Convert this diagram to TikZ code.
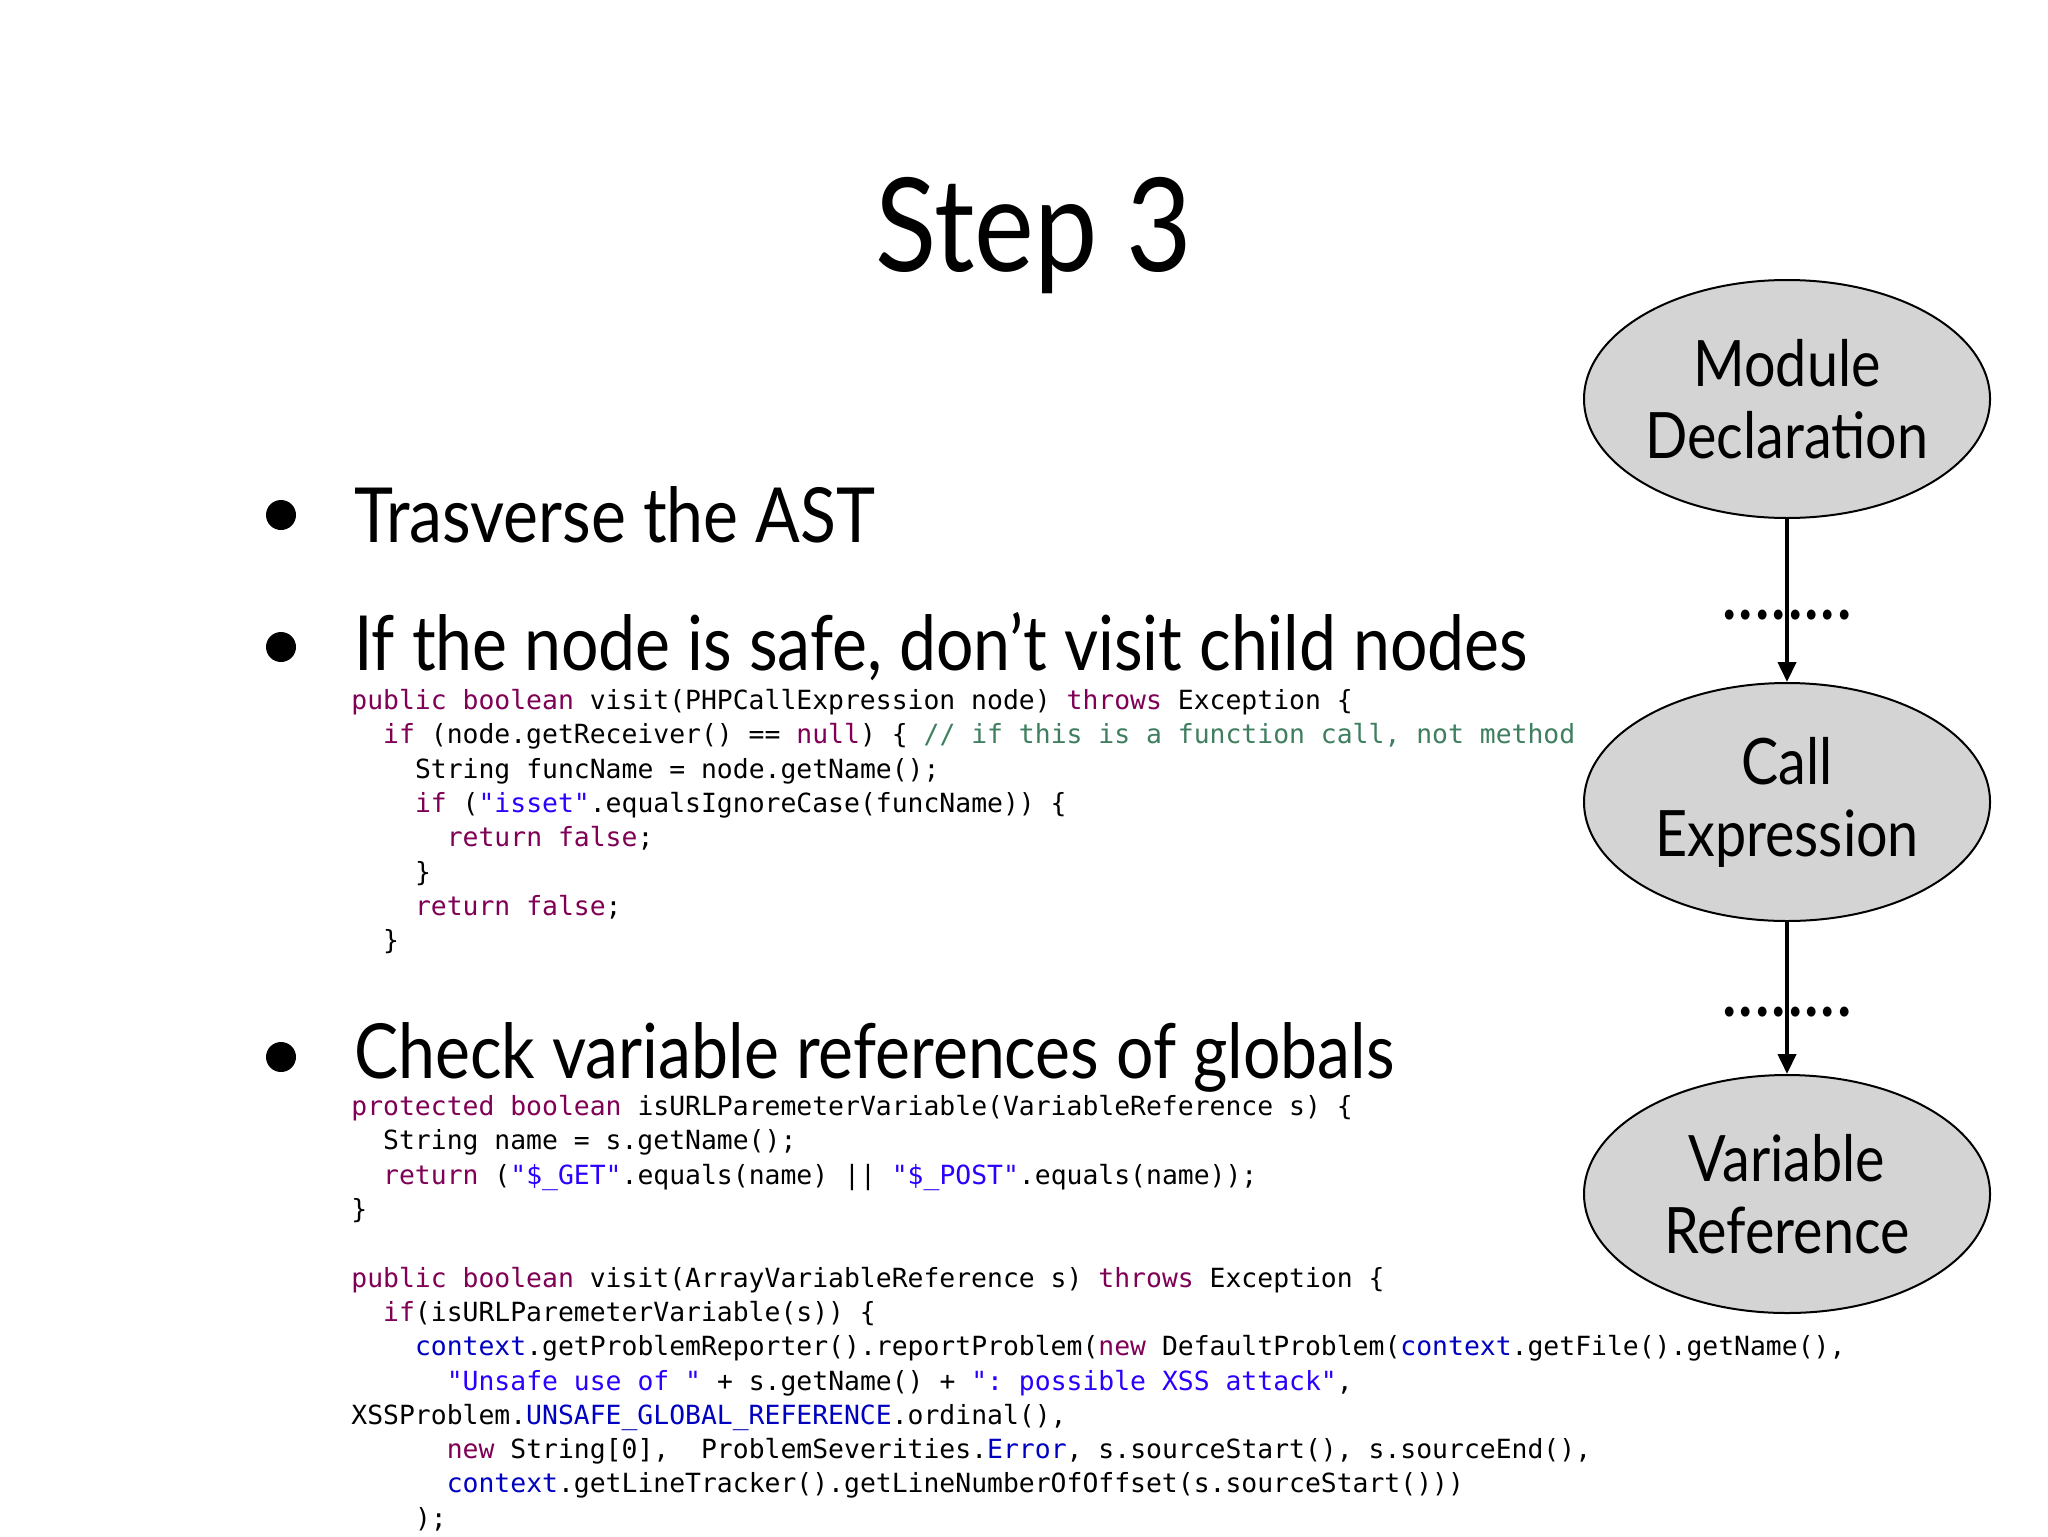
\documentclass[tikz,border=0pt]{standalone}
\usepackage{fontspec}
\setmainfont[FakeStretch=0.87]{Lato}
\setmonofont{DejaVu Sans Mono}
\usetikzlibrary{shapes.geometric,arrows.meta}
\definecolor{kw}{RGB}{127,0,85}
\definecolor{str}{RGB}{42,0,255}
\definecolor{cmt}{RGB}{63,127,95}
\definecolor{fld}{RGB}{0,0,192}
\definecolor{ellfill}{RGB}{212,212,212}
\newcommand{\K}[1]{\textcolor{kw}{#1}}
\newcommand{\Sg}[1]{\textcolor{str}{#1}}
\newcommand{\Cm}[1]{\textcolor{cmt}{#1}}
\newcommand{\F}[1]{\textcolor{fld}{#1}}
\newcommand{\I}[1]{\hspace*{#1\dimexpr 7.95pt\relax}}
\begin{document}
\begin{tikzpicture}[x=0.5pt,y=-0.5pt,
  bul/.style={anchor=west,font=\fontsize{38}{46}\selectfont,inner sep=0},
  dotb/.style={circle,fill=black,inner sep=0,minimum size=15pt},
  code/.style={anchor=north west,align=left,inner sep=0,font=\ttfamily\fontsize{13.2}{17.15}\selectfont},
  ell/.style={ellipse,draw,line width=1pt,fill=ellfill,minimum width=203pt,minimum height=119pt,align=center,font=\fontsize{32}{36}\selectfont,inner sep=0},
  arr/.style={-{Triangle[length=10pt,width=9pt]},line width=2pt},
  dots/.style={font=\fontsize{40}{40}\selectfont,inner sep=0}]
\useasboundingbox[fill=white] (0,0) rectangle (2048,1536);
\node[font=\fontsize{65}{70}\selectfont] (title) at (1034,236) {Step 3};
\node[dotb] (b1) at (281,515) {};
\node[bul] (t1) at (354,515) {Trasverse the AST};
\node[dotb] (b2) at (281,647) {};
\node[bul] (t2) at (354,647) {If the node is safe, don’t visit child nodes};
\node[dotb] (b3) at (281,1057) {};
\node[bul] (t3) at (354,1057) {Check variable references of globals};
\node[code] (c1) at (351,689) {%
\K{public} \K{boolean} visit(PHPCallExpression node) \K{throws} Exception \{\\
\I{2}\K{if} (node.getReceiver() == \K{null}) \{ \Cm{// if this is a function call, not method}\\
\I{4}String funcName = node.getName();\\
\I{4}\K{if} (\Sg{"isset"}.equalsIgnoreCase(funcName)) \{\\
\I{6}\K{return} \K{false};\\
\I{4}\}\\
\I{4}\K{return} \K{false};\\
\I{2}\}};
\node[code] (c2) at (351,1095) {%
\K{protected} \K{boolean} isURLParemeterVariable(VariableReference s) \{\\
\I{2}String name = s.getName();\\
\I{2}\K{return} (\Sg{"\$\_GET"}.equals(name) || \Sg{"\$\_POST"}.equals(name));\\
\}\\[17.15pt]
\K{public} \K{boolean} visit(ArrayVariableReference s) \K{throws} Exception \{\\
\I{2}\K{if}(isURLParemeterVariable(s)) \{\\
\I{4}\F{context}.getProblemReporter().reportProblem(\K{new} DefaultProblem(\F{context}.getFile().getName(),\\
\I{6}\Sg{"Unsafe use of "} + s.getName() + \Sg{": possible XSS attack"},\\
XSSProblem.\F{UNSAFE\_GLOBAL\_REFERENCE}.ordinal(),\\
\I{6}\K{new} String[0],\ \ ProblemSeverities.\F{Error}, s.sourceStart(), s.sourceEnd(),\\
\I{6}\F{context}.getLineTracker().getLineNumberOfOffset(s.sourceStart()))\\
\I{4});};
\node[ell] (e1) at (1787,399) {Module\\Declaration};
\node[ell] (e2) at (1787,802) {Call\\Expression};
\node[ell] (e3) at (1787,1194) {Variable\\Reference};
\node[dots] (d1) at (1787,615) {........};
\node[dots] (d2) at (1787,1012) {........};
\draw[arr] (e1) -- (e2);
\draw[arr] (e2) -- (e3);
\end{tikzpicture}
\end{document}
